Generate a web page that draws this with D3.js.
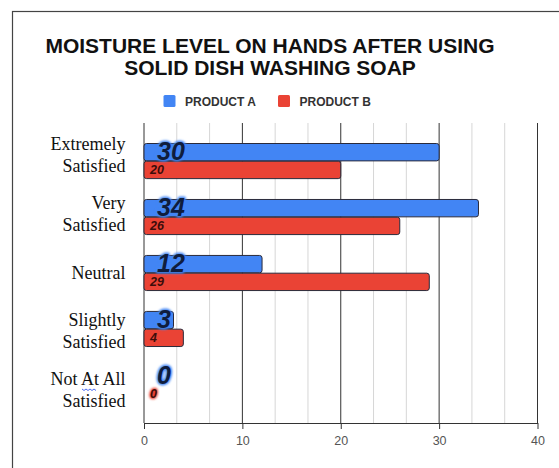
<!DOCTYPE html>
<html>
<head>
<meta charset="utf-8">
<script src="https://cdn.jsdelivr.net/npm/d3@7"></script>
<style>
  html, body { margin: 0; padding: 0; background: #fff; }
  svg { display: block; }
</style>
</head>
<body>
<svg id="chart" width="559" height="468"></svg>
<script>
const titleLines = ["MOISTURE LEVEL ON HANDS AFTER USING", "SOLID DISH WASHING SOAP"];
const categories = ["Extremely Satisfied", "Very Satisfied", "Neutral", "Slightly Satisfied", "Not At All Satisfied"];
const categoryLines = [["Extremely", "Satisfied"], ["Very", "Satisfied"], ["Neutral"], ["Slightly", "Satisfied"], ["Not At All", "Satisfied"]];
const seriesNames = ["PRODUCT A", "PRODUCT B"];
const productA = [30, 34, 12, 3, 0];
const productB = [20, 26, 29, 4, 0];
const xTicks = [0, 10, 20, 30, 40];

const colors = ["#4285F4", "#EA4335"];
const labelFill = ["#0f1d3d", "#3d0d0a"];

const svg = d3.select("#chart");
const W = 559, H = 468;
const m = { left: 144, right: 21.5, top: 123, bottom: 45 };

const defs = svg.append("defs");
colors.forEach((c, i) => {
  const f = defs.append("filter").attr("id", "glow" + i)
    .attr("x", "-50%").attr("y", "-50%").attr("width", "200%").attr("height", "200%");
  f.append("feGaussianBlur").attr("stdDeviation", i === 0 ? 1.3 : 1.1);
});

// outer frame
svg.append("rect").attr("x", 12.5).attr("y", 11.5).attr("width", 560).attr("height", 480)
  .attr("fill", "none").attr("stroke", "#444").attr("stroke-width", 1.2);

// title
svg.append("text").attr("x", 270).attr("y", 52.5)
  .attr("text-anchor", "middle").attr("font-family", "Liberation Sans, Arial, sans-serif")
  .attr("font-weight", "bold").attr("font-size", 21).attr("fill", "#111")
  .selectAll("tspan").data(titleLines).join("tspan")
  .attr("x", 270).attr("dy", (d, i) => i === 0 ? 0 : 22.7).text(d => d);

// legend
const legend = svg.append("g").attr("font-family", "Liberation Sans, Arial, sans-serif")
  .attr("font-weight", "bold").attr("font-size", 12).attr("fill", "#333");
const legendX = [163.5, 278];
seriesNames.forEach((n, i) => {
  legend.append("rect").attr("x", legendX[i]).attr("y", 95).attr("width", 12).attr("height", 12)
    .attr("rx", 1.5).attr("fill", colors[i]);
  legend.append("text").attr("x", legendX[i] + 21.5).attr("y", 105.8).text(n);
});

const x = d3.scaleLinear().domain([0, 40]).range([m.left, W - m.right]);
const y = d3.scaleBand().domain(categories).range([m.top, H - m.bottom]).paddingInner(0.36).paddingOuter(0.36);
const sub = d3.scaleBand().domain([0, 1]).range([0, y.bandwidth()]).padding(0.02);

// minor gridlines
const minor = d3.range(0, 40, 10 / 3).filter((v, i) => i % 3 !== 0);
svg.append("g").selectAll("line").data(minor).join("line")
  .attr("x1", d => x(d)).attr("x2", d => x(d))
  .attr("y1", m.top).attr("y2", H - m.bottom)
  .attr("stroke", "#d6d6d6").attr("stroke-width", 1);

// major gridlines
svg.append("g").selectAll("line").data(xTicks).join("line")
  .attr("x1", d => x(d)).attr("x2", d => x(d))
  .attr("y1", m.top).attr("y2", H - m.bottom)
  .attr("stroke", "#333").attr("stroke-width", 1);

// bottom axis
const axis = svg.append("g").attr("transform", `translate(0,${H - m.bottom})`)
  .call(d3.axisBottom(x).tickValues(xTicks).tickSize(6).tickPadding(7).tickSizeOuter(0));
axis.select(".domain").attr("stroke", "#333").attr("stroke-width", 1.2);
axis.selectAll(".tick line").attr("stroke", "#333");
axis.selectAll(".tick text").attr("font-family", "Liberation Sans, Arial, sans-serif")
  .attr("font-size", 12.5).attr("fill", "#555");

// bars
const series = [productA, productB];
series.forEach((vals, s) => {
  svg.append("g").selectAll("rect").data(vals.map((v, i) => ({ v, c: categories[i] })).filter(d => d.v > 0))
    .join("rect")
    .attr("x", x(0))
    .attr("y", d => y(d.c) + sub(s))
    .attr("width", d => x(d.v) - x(0))
    .attr("height", sub.bandwidth())
    .attr("rx", 2.5)
    .attr("fill", colors[s])
    .attr("stroke", "#2a2a3a").attr("stroke-width", 1);
});

// value labels
const labelCfg = [
  { dx: 13, size: 25 },
  { dx: 6, size: 12.5 }
];
series.forEach((vals, s) => {
  const g = svg.append("g").attr("font-family", "Liberation Sans, Arial, sans-serif")
    .attr("font-weight", "bold").attr("font-style", "italic").attr("font-size", labelCfg[s].size);
  const data = vals.map((v, i) => ({ v, c: categories[i] }));
  const cy = d => y(d.c) + sub(s) + sub.bandwidth() / 2 - (s === 0 ? 1 : 0);
  g.selectAll("text.glow").data(data).join("text").attr("class", "glow")
    .attr("x", x(0) + labelCfg[s].dx).attr("y", cy).attr("dominant-baseline", "central")
    .attr("fill", colors[s]).attr("stroke", colors[s]).attr("stroke-width", s === 0 ? 3 : 2.5)
    .attr("stroke-linejoin", "round").attr("filter", `url(#glow${s})`).text(d => d.v);
  g.selectAll("text.main").data(data).join("text").attr("class", "main")
    .attr("x", x(0) + labelCfg[s].dx).attr("y", cy).attr("dominant-baseline", "central")
    .attr("fill", labelFill[s]).text(d => d.v);
});

// category labels
const labelPos = d3.scalePoint().domain(categories).range([155, 390]);
const catG = svg.append("g").attr("font-family", "Liberation Serif, Times New Roman, serif")
  .attr("font-size", 18).attr("fill", "#111").attr("text-anchor", "end");
categories.forEach((c, i) => {
  const lines = categoryLines[i];
  const lh = 22;
  const t = catG.append("text").attr("x", 125.5)
    .attr("y", labelPos(c) - (lines.length - 1) * lh / 2).attr("dominant-baseline", "central");
  lines.forEach((l, j) => t.append("tspan").attr("x", 125.5).attr("dy", j === 0 ? 0 : lh).text(l));
});

// spell-check squiggle under "At"
const squig = d3.range(0, 8).map(k => [82 + k * 2, 389 + (k % 2 === 0 ? 0 : 1.5)]);
svg.append("path").attr("d", d3.line()(squig)).attr("fill", "none")
  .attr("stroke", "#3a5cf0").attr("stroke-width", 0.9);
</script>
</body>
</html>
